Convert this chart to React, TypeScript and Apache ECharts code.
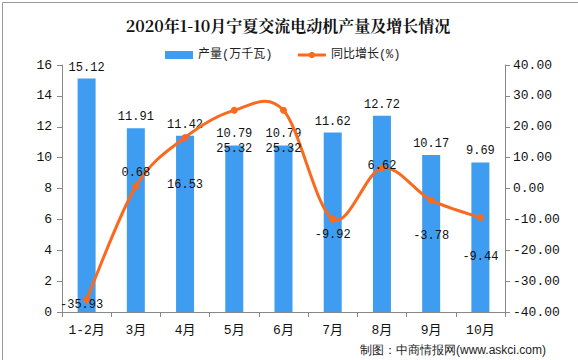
import React, { useEffect, useRef } from "react";
import * as echarts from "echarts";

const categories = ["1-2月", "3月", "4月", "5月", "6月", "7月", "8月", "9月", "10月"];
const output = [15.12, 11.91, 11.42, 10.79, 10.79, 11.62, 12.72, 10.17, 9.69];
const growth = [-35.93, 0.68, 16.53, 25.32, 25.32, -9.92, 6.62, -3.78, -9.44];

const labelOffsets: [number, number][] = [
  [-5, 19], [0, 0], [0, 61], [0, 52], [0, 52], [0, 29], [0, 11], [0, 49], [0, 53],
];

const FONT = "'Liberation Mono', 'Noto Sans CJK SC', monospace";
const LINE_COLOR = "#FA6A1E";

export default function App() {
  const ref = useRef<HTMLDivElement>(null);
  useEffect(() => {
    const chart = echarts.init(ref.current!, null, { renderer: "svg" });
    const n = growth.length;
    chart.setOption({
      animation: false,
      backgroundColor: "#fff",
      title: {
        text: "2020年1-10月宁夏交流电动机产量及增长情况",
        left: 283,
        textAlign: "center",
        top: 12,
        textStyle: { fontSize: 16, fontWeight: "bold", color: "#111", fontFamily: "'Noto Serif CJK SC', 'Noto Sans CJK SC', serif" },
      },
      legend: {
        top: 44,
        left: 160,
        itemGap: 24,
        itemWidth: 28,
        itemHeight: 8,
        textStyle: { fontSize: 12, color: "#222", fontFamily: FONT },
        data: [
          { name: "产量(万千瓦)", icon: "rect" },
          { name: "同比增长(%)", lineStyle: { color: LINE_COLOR, width: 3, opacity: 1 } },
        ],
      },
      grid: { left: 62, right: 73, top: 65, bottom: 48 },
      xAxis: {
        type: "category",
        data: categories,
        axisLine: { lineStyle: { color: "#888" } },
        axisTick: { show: true, alignWithLabel: false, length: 5, lineStyle: { color: "#888" } },
        axisLabel: { fontSize: 13, color: "#111", margin: 12, fontFamily: FONT },
      },
      yAxis: [
        {
          type: "value",
          min: 0,
          max: 16,
          interval: 2,
          splitLine: { show: false },
          axisLine: { show: true, lineStyle: { color: "#888" } },
          axisTick: { show: true, length: 5, lineStyle: { color: "#888" } },
          axisLabel: { fontSize: 13, color: "#111", margin: 10, fontFamily: FONT },
        },
        {
          type: "value",
          min: -40,
          max: 40,
          interval: 10,
          splitLine: { show: false },
          axisLine: { show: true, lineStyle: { color: "#888" } },
          axisTick: { show: true, length: 5, lineStyle: { color: "#888" } },
          axisLabel: {
            fontSize: 13,
            color: "#111",
            margin: 8,
            fontFamily: FONT,
            formatter: (v: number) => v.toFixed(2),
          },
        },
      ],
      series: [
        {
          name: "产量(万千瓦)",
          type: "bar",
          data: output,
          barWidth: 18,
          itemStyle: { color: "#3F9DF1" },
          label: { show: true, position: "top", fontSize: 12, color: "#111", fontFamily: FONT, distance: 5 },
        },
        {
          name: "growthCurve",
          type: "custom",
          yAxisIndex: 1,
          coordinateSystem: "cartesian2d",
          data: growth.map((v, i) => [i, v]),
          encode: { x: 0, y: 1 },
          z: 4,
          silent: true,
          renderItem: (params: any, api: any) => {
            const i = params.dataIndex;
            if (i >= n - 1) return null;
            const pt = (k: number) => {
              const kk = Math.max(0, Math.min(n - 1, k));
              return api.coord([kk, growth[kk]]);
            };
            const p0 = pt(i - 1);
            const p1 = pt(i);
            const p2 = pt(i + 1);
            const p3 = pt(i + 2);
            const t = 1 / 6;
            return {
              type: "bezierCurve",
              shape: {
                x1: p1[0],
                y1: p1[1],
                x2: p2[0],
                y2: p2[1],
                cpx1: p1[0] + (p2[0] - p0[0]) * t,
                cpy1: p1[1] + (p2[1] - p0[1]) * t,
                cpx2: p2[0] - (p3[0] - p1[0]) * t,
                cpy2: p2[1] - (p3[1] - p1[1]) * t,
              },
              style: { stroke: LINE_COLOR, lineWidth: 3, fill: "none", lineCap: "round" },
            };
          },
        },
        {
          name: "同比增长(%)",
          type: "line",
          yAxisIndex: 1,
          data: growth.map((v, i) => ({
            value: v,
            label: { offset: labelOffsets[i] },
          })),
          symbol: "circle",
          symbolSize: 7,
          lineStyle: { color: LINE_COLOR, width: 3, opacity: 0 },
          itemStyle: { color: LINE_COLOR },
          label: { show: true, position: "top", fontSize: 12, color: "#111", fontFamily: FONT, distance: 4 },
          z: 5,
        },
      ],
      graphic: [
        {
          type: "text",
          right: 32,
          bottom: 4,
          style: { text: "制图：中商情报网(www.askci.com)", fontSize: 12, fill: "#222", font: "12px 'Noto Sans CJK SC', sans-serif" },
        },
        {
          type: "rect",
          left: 0,
          top: 0,
          shape: { width: 577, height: 359 },
          style: { fill: "none", stroke: "#999", lineWidth: 1 },
        },
      ],
    });
    return () => chart.dispose();
  }, []);
  return <div ref={ref} style={{ width: 578, height: 360, position: "fixed", left: 0, top: 0 }} />;
}
